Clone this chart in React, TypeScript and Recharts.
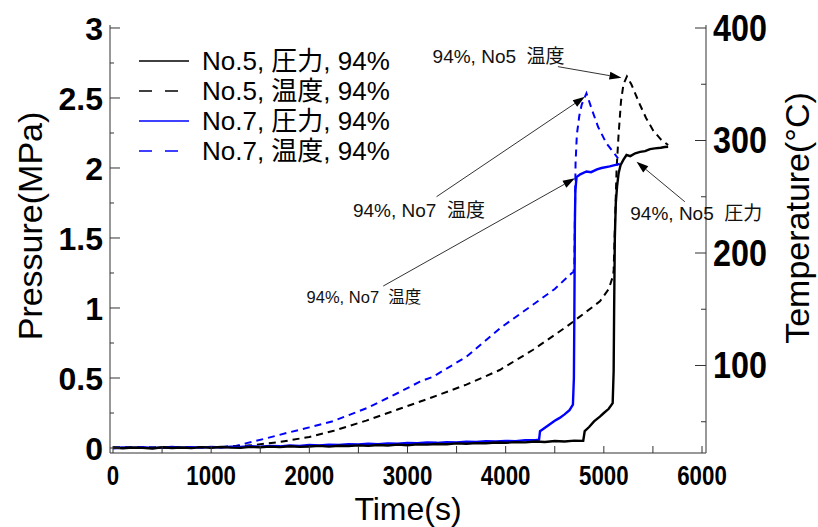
import {
	LineChart,
	Line,
	XAxis,
	YAxis,
	Legend,
	ReferenceLine,
	ReferenceDot,
	Label,
} from "recharts";

// time axis (s), pressure axis (MPa), temperature axis (°C)
const timeTicks = [0, 500, 1000, 1500, 2000, 2500, 3000, 3500, 4000, 4500, 5000, 5500, 6000];
const pressureTicks = [0, 0.25, 0.5, 0.75, 1, 1.25, 1.5, 1.75, 2, 2.25, 2.5, 2.75, 3];
const tempTicks = [50, 100, 150, 200, 250, 300, 350, 400];

// [time, MPa]
const no5Pressure: [number, number][] = [
	[0, 0.003], [100, -0.002], [200, 0.004], [300, 0.001], [400, -0.003], [500, 0.005], [600, 0.0], [700, 0.004], [800, -0.001], [900, 0.006],
	[1000, 0.002], [1100, 0.007], [1200, 0.003], [1300, 0.001], [1400, 0.008], [1500, 0.005], [1600, 0.01], [1700, 0.006], [1800, 0.012], [1900, 0.008],
	[2000, 0.011], [2100, 0.015], [2200, 0.01], [2300, 0.016], [2400, 0.014], [2500, 0.019], [2600, 0.015], [2700, 0.021], [2800, 0.018], [2900, 0.024],
	[3000, 0.02], [3100, 0.026], [3200, 0.024], [3300, 0.029], [3400, 0.027], [3500, 0.033], [3600, 0.03], [3700, 0.035], [3800, 0.034], [3900, 0.039],
	[4000, 0.037], [4100, 0.042], [4200, 0.04], [4300, 0.046], [4400, 0.043], [4500, 0.05], [4600, 0.046], [4700, 0.053], [4790, 0.051],
	[4805, 0.12], [4850, 0.15], [4900, 0.19], [4960, 0.224], [5000, 0.25], [5050, 0.28], [5090, 0.32], [5100, 0.55], [5105, 1.0], [5112, 1.5],
	[5122, 1.75], [5135, 1.87], [5150, 1.96], [5170, 2.02], [5200, 2.06], [5231, 2.093], [5270, 2.085], [5320, 2.105], [5370, 2.115], [5420, 2.12],
	[5470, 2.135], [5520, 2.14], [5580, 2.145], [5620, 2.15], [5655, 2.152],
];

const no7Pressure: [number, number][] = [
	[0, -0.002], [100, 0.004], [200, 0.001], [300, 0.006], [400, 0.0], [500, 0.003], [600, 0.007], [700, 0.002], [800, 0.006], [900, 0.003],
	[1000, 0.008], [1100, 0.004], [1200, 0.01], [1300, 0.007], [1400, 0.012], [1500, 0.009], [1600, 0.015], [1700, 0.012], [1800, 0.018], [1900, 0.015],
	[2000, 0.021], [2100, 0.018], [2200, 0.024], [2300, 0.021], [2400, 0.027], [2500, 0.025], [2600, 0.03], [2700, 0.028], [2800, 0.033], [2900, 0.031],
	[3000, 0.036], [3100, 0.034], [3200, 0.039], [3300, 0.037], [3400, 0.042], [3500, 0.04], [3600, 0.045], [3700, 0.043], [3800, 0.048], [3900, 0.046],
	[4000, 0.051], [4100, 0.049], [4200, 0.055], [4300, 0.056], [4340, 0.06], [4350, 0.12], [4400, 0.145], [4450, 0.17], [4500, 0.195], [4550, 0.215],
	[4600, 0.24], [4650, 0.27], [4685, 0.31], [4695, 0.5], [4700, 1.0], [4705, 1.6], [4710, 1.84], [4722, 1.935], [4760, 1.955], [4823, 1.975],
	[4870, 1.97], [4930, 1.99], [4976, 2.0], [5060, 2.012], [5120, 2.022], [5163, 2.03],
];

// [time, °C]
const no5Temp: [number, number][] = [
	[0, 27], [600, 27], [1100, 27.5], [1400, 29], [1700, 32], [2000, 36.5], [2250, 42], [2580, 51], [2920, 61.5], [3260, 72],
	[3600, 83], [3940, 96], [4280, 114], [4620, 134.5], [4960, 157], [5050, 168], [5095, 180], [5100, 185], [5115, 230], [5130, 275],
	[5150, 305], [5175, 335], [5200, 350], [5235, 357], [5280, 350], [5367, 332], [5430, 320], [5502, 309], [5580, 301], [5655, 296],
];

const no7Temp: [number, number][] = [
	[0, 27], [600, 27], [1100, 27.5], [1250, 28.5], [1361, 31], [1550, 35], [1769, 40], [2000, 45], [2240, 50.5], [2583, 62],
	[2923, 76.5], [3126, 85.6], [3259, 90], [3601, 107.8], [3941, 133], [4277, 154], [4500, 168], [4671, 182], [4690, 183], [4700, 190],
	[4705, 230], [4712, 280], [4725, 305], [4750, 322], [4775, 332], [4823, 342], [4880, 327], [4942, 312], [5026, 297.5], [5146, 284],
];

const toRows = (pts: [number, number][]) => pts.map(([t, v]) => ({ t, v }));

const BLUE = "#0000ff";
const INK = "#000";
const AXIS = "#333";

const series = [
	{ name: "No.5, 圧力, 94%", color: INK, dashed: false },
	{ name: "No.5, 温度, 94%", color: INK, dashed: true },
	{ name: "No.7, 圧力, 94%", color: BLUE, dashed: false },
	{ name: "No.7, 温度, 94%", color: BLUE, dashed: true },
];

// callouts: text anchor and arrow from -> to, on the time / pressure scales
const notes = [
	{ text: "94%, No5  温度", tx: 3928, ty: 2.8, x1: 4532, y1: 2.724, x2: 5180, y2: 2.645, size: 19 },
	{ text: "94%, No7  温度", tx: 3116, ty: 1.7, x1: 3296, y1: 1.795, x2: 4807, y2: 2.509, size: 19 },
	{ text: "94%, No7  温度", tx: 2556, ty: 1.075, x1: 2753, y1: 1.157, x2: 4705, y2: 1.926, size: 16.5 },
	{ text: "94%, No5  圧力", tx: 5942, ty: 1.679, x1: 5825, y1: 1.759, x2: 5333, y2: 2.045, size: 19 },
];

const tickFont = "'Liberation Sans', Arial, sans-serif";
const textFont = "'Liberation Sans', Arial, 'Noto Sans CJK JP', sans-serif";

const isStep = (v: number, step: number) => Math.abs(v / step - Math.round(v / step)) < 1e-6;

const LeftTick = (props: any) => {
	const { x, y, payload } = props;
	const major = isStep(payload.value, 0.5);
	return (
		<g>
			<line x1={x} x2={x + (major ? 10 : 4)} y1={y} y2={y} stroke={AXIS} />
			{major && (
				<text x={x - 7} y={y} dy="0.36em" textAnchor="end" fontFamily={tickFont} fontWeight="bold" fontSize={32} fill={INK}>
					{String(payload.value)}
				</text>
			)}
		</g>
	);
};

const RightTick = (props: any) => {
	const { x, y, payload } = props;
	const major = isStep(payload.value, 100);
	return (
		<g>
			<line x1={x} x2={x - (major ? 11 : 5)} y1={y} y2={y} stroke={AXIS} />
			{major && (
				<text
					x={x + 7}
					y={y}
					dy="0.36em"
					textAnchor="start"
					fontFamily={tickFont}
					fontWeight="bold"
					fontSize={36}
					textLength={54}
					lengthAdjust="spacingAndGlyphs"
					fill={INK}
				>
					{String(payload.value)}
				</text>
			)}
		</g>
	);
};

const BottomTick = (props: any) => {
	const { x, y, payload } = props;
	const v = payload.value;
	const label = String(v);
	return (
		<g>
			<line x1={x} x2={x} y1={y} y2={y - 7} stroke={AXIS} />
			{isStep(v, 1000) && (
				<text
					x={x}
					y={y + 22}
					dy="0.36em"
					textAnchor="middle"
					fontFamily={tickFont}
					fontWeight="bold"
					fontSize={27}
					textLength={label.length * 12.4}
					lengthAdjust="spacingAndGlyphs"
					fill={INK}
				>
					{label}
				</text>
			)}
		</g>
	);
};

const TopTick = (props: any) => {
	const { x, y } = props;
	return <line x1={x} x2={x} y1={y} y2={y + 7} stroke={AXIS} />;
};

const Arrow = (props: any) => {
	const { x1, y1, x2, y2 } = props;
	const ang = Math.atan2(y2 - y1, x2 - x1);
	const len = 12;
	const half = 4;
	const bx = x2 - len * Math.cos(ang);
	const by = y2 - len * Math.sin(ang);
	const nx = -Math.sin(ang) * half;
	const ny = Math.cos(ang) * half;
	return (
		<g>
			<line x1={x1} y1={y1} x2={bx} y2={by} stroke="#333" strokeWidth={1} />
			<polygon points={`${x2},${y2} ${bx + nx},${by + ny} ${bx - nx},${by - ny}`} fill="#000" />
		</g>
	);
};

const renderLegend = () => (
	<div style={{ fontFamily: textFont, fontSize: 26, lineHeight: "30px", color: INK }}>
		{series.map((s) => (
			<div key={s.name} style={{ display: "flex", alignItems: "center", height: 30 }}>
				<svg width={52} height={10} style={{ marginRight: 11 }}>
					<line
						x1={0}
						x2={50}
						y1={5}
						y2={5}
						stroke={s.color}
						strokeWidth={1.6}
						strokeDasharray={s.dashed ? "13 13" : undefined}
					/>
				</svg>
				<span style={{ whiteSpace: "nowrap" }}>{s.name}</span>
			</div>
		))}
	</div>
);

export default function App() {
	return (
		<div style={{ position: "absolute", left: 0, top: 0, background: "#fff" }}>
			<LineChart width={818} height={527} margin={{ top: 25, right: 0, bottom: 0, left: 0 }}>
				<XAxis
					dataKey="t"
					type="number"
					domain={[-30.6, 6040.7]}
					ticks={timeTicks}
					allowDataOverflow
					height={74}
					tickSize={0}
					tickMargin={0}
					tickLine={false}
					tick={<BottomTick />}
					axisLine={{ stroke: AXIS }}
				>
					<Label
						content={(p: any) => (
							<text
								x={p.viewBox.x + 298}
								y={508}
								dy="0.36em"
								textAnchor="middle"
								fontFamily={textFont}
								fontSize={32}
								fill={INK}
							>
								Time(s)
							</text>
						)}
					/>
				</XAxis>
				<XAxis
					xAxisId="top"
					dataKey="t"
					type="number"
					orientation="top"
					domain={[-30.6, 6040.7]}
					ticks={timeTicks}
					allowDataOverflow
					height={0}
					tickSize={0}
					tickMargin={0}
					tickLine={false}
					tick={<TopTick />}
					axisLine={{ stroke: AXIS }}
				/>
				<YAxis
					yAxisId="p"
					type="number"
					domain={[-0.0357, 3.0214]}
					ticks={pressureTicks}
					allowDataOverflow
					width={110}
					tickSize={0}
					tickMargin={0}
					tickLine={false}
					tick={<LeftTick />}
					axisLine={{ stroke: AXIS }}
				>
					<Label
						content={() => (
							<text
								x={30}
								y={226}
								dy="0.36em"
								textAnchor="middle"
								transform="rotate(-90 30 226)"
								fontFamily={textFont}
								fontSize={34}
								fill={INK}
							>
								Pressure(MPa)
							</text>
						)}
					/>
				</YAxis>
				<YAxis
					yAxisId="t"
					orientation="right"
					type="number"
					domain={[22.22, 402.67]}
					ticks={tempTicks}
					allowDataOverflow
					width={112}
					tickSize={0}
					tickMargin={0}
					tickLine={false}
					tick={<RightTick />}
					axisLine={{ stroke: AXIS }}
				>
					<Label
						content={() => (
							<text
								x={797}
								y={218}
								dy="0.36em"
								textAnchor="middle"
								transform="rotate(-90 797 218)"
								fontFamily={textFont}
								fontSize={34}
								fill={INK}
							>
								Temperature(°C)
							</text>
						)}
					/>
				</YAxis>

				<Line
					yAxisId="t"
					data={toRows(no7Temp)}
					dataKey="v"
					name={series[3].name}
					type="linear"
					stroke={BLUE}
					strokeWidth={2}
					strokeDasharray="7 5"
					dot={false}
					isAnimationActive={false}
				/>
				<Line
					yAxisId="t"
					data={toRows(no5Temp)}
					dataKey="v"
					name={series[1].name}
					type="linear"
					stroke={INK}
					strokeWidth={2}
					strokeDasharray="7 5"
					dot={false}
					isAnimationActive={false}
				/>
				<Line
					yAxisId="p"
					data={toRows(no7Pressure)}
					dataKey="v"
					name={series[2].name}
					type="linear"
					stroke={BLUE}
					strokeWidth={2.4}
					dot={false}
					isAnimationActive={false}
				/>
				<Line
					yAxisId="p"
					data={toRows(no5Pressure)}
					dataKey="v"
					name={series[0].name}
					type="linear"
					stroke={INK}
					strokeWidth={2.4}
					dot={false}
					isAnimationActive={false}
				/>

				{notes.map((n, i) => (
					<ReferenceLine
						key={`a${i}`}
						yAxisId="p"
						segment={[
							{ x: n.x1, y: n.y1 },
							{ x: n.x2, y: n.y2 },
						]}
						ifOverflow="visible"
						shape={(p: any) => <Arrow {...p} />}
					/>
				))}
				{notes.map((n, i) => (
					<ReferenceDot
						key={`n${i}`}
						yAxisId="p"
						x={n.tx}
						y={n.ty}
						r={0}
						ifOverflow="visible"
						shape={(p: any) => (
							<text
								x={p.cx}
								y={p.cy}
								dy="0.36em"
								textAnchor="middle"
								fontFamily={textFont}
								fontSize={n.size}
								fill="#111"
								style={{ whiteSpace: "pre" }}
							>
								{n.text}
							</text>
						)}
					/>
				))}

				<Legend
					layout="vertical"
					align="center"
					verticalAlign="middle"
					content={renderLegend}
					wrapperStyle={{ left: 139, top: 46, width: "auto", height: "auto" }}
				/>
			</LineChart>
		</div>
	);
}
